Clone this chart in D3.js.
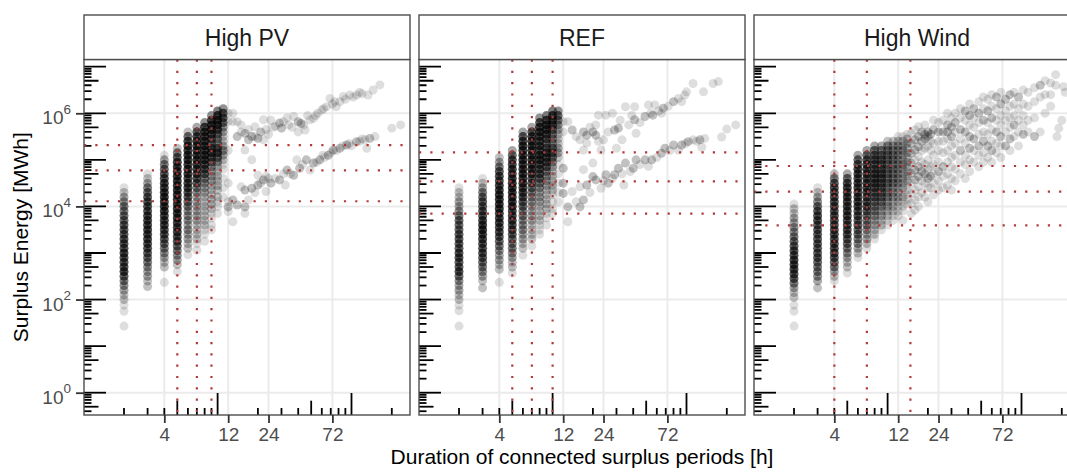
<!DOCTYPE html>
<html><head><meta charset="utf-8">
<script src="https://cdn.jsdelivr.net/npm/d3@7"></script>
<style>body{margin:0;background:#fff}svg{display:block}text{font-family:"Liberation Sans",Arial,sans-serif}</style>
</head><body><svg id="c" width="1067" height="476"></svg>
<script>
const panelNames = ["High PV", "REF", "High Wind"];
const xTickValues = [4, 12, 24, 72];
const yTickValues = [1, 1e2, 1e4, 1e6];
const durationLines = [[5, 7, 9], [5, 7, 10], [4, 7, 14.8]];
const energyLines = [[2.08e5, 5.97e4, 1.29e4], [1.45e5, 3.46e4, 6.98e3], [7.38e4, 2.07e4, 3.93e3]];

// [duration h, [[log10 MWh, number of events], ...]]
const pvColumns = [
[2,[[4.4,1],[4.3,2],[4.2,3],[4.1,4],[4.0,5],[3.9,5],[3.8,6],[3.7,6],[3.6,7],[3.5,7],[3.4,7],[3.3,8],[3.2,8],[3.1,8],[3.0,9],[2.9,8],[2.8,8],[2.7,8],[2.6,9],[2.5,7],[2.4,5],[2.3,4],[2.2,3],[2.1,2],[2.0,2],[1.88,1],[1.75,1],[1.43,1]]],
[3,[[4.7,1],[4.6,2],[4.5,3],[4.4,5],[4.3,6],[4.2,7],[4.1,8],[4.0,8],[3.9,8],[3.8,9],[3.7,9],[3.6,9],[3.5,9],[3.4,9],[3.3,9],[3.2,8],[3.1,8],[3.0,7],[2.9,6],[2.8,5],[2.7,4],[2.6,3],[2.5,3],[2.4,2],[2.28,2]]],
[4,[[5.1,1],[5.0,3],[4.9,5],[4.8,6],[4.7,7],[4.6,8],[4.5,9],[4.4,9],[4.3,10],[4.2,10],[4.1,10],[4.0,10],[3.9,10],[3.8,9],[3.7,9],[3.6,9],[3.5,8],[3.4,8],[3.3,7],[3.2,6],[3.1,5],[3.0,4],[2.9,3],[2.8,2],[2.7,2],[2.37,1]]],
[5,[[5.25,2],[5.15,5],[5.05,7],[4.95,9],[4.85,10],[4.75,10],[4.65,10],[4.55,10],[4.45,10],[4.35,10],[4.25,10],[4.15,10],[4.05,10],[3.95,10],[3.85,10],[3.75,10],[3.65,9],[3.55,9],[3.45,9],[3.35,8],[3.25,8],[3.15,6],[3.05,5],[2.95,4],[2.85,3],[2.75,2],[2.6,1]]],
[6,[[5.6,2],[5.5,6],[5.4,9],[5.3,10],[5.2,10],[5.1,10],[5.0,10],[4.9,10],[4.8,10],[4.7,10],[4.6,9],[4.5,9],[4.4,9],[4.3,8],[4.2,7],[4.1,6],[4.0,5],[3.9,4],[3.8,4],[3.7,4],[3.6,3],[3.5,4],[3.4,3],[3.3,3],[3.2,2],[3.1,2],[2.96,1]]],
[7,[[5.7,3],[5.6,7],[5.5,9],[5.4,10],[5.3,10],[5.2,10],[5.1,10],[5.0,10],[4.9,10],[4.8,9],[4.7,9],[4.6,8],[4.5,7],[4.4,5],[4.3,4],[4.2,3],[4.1,3],[4.0,3],[3.9,3],[3.8,3],[3.7,3],[3.6,2],[3.5,2],[3.4,2],[3.3,2],[3.2,1],[3.06,1]]],
[8,[[5.8,4],[5.7,9],[5.6,10],[5.5,10],[5.4,10],[5.3,10],[5.2,10],[5.1,10],[5.0,10],[4.9,9],[4.8,8],[4.7,7],[4.6,5],[4.5,4],[4.4,3],[4.3,3],[4.2,2],[4.1,2],[4.0,2],[3.9,2],[3.8,2],[3.7,2],[3.6,2],[3.5,1],[3.4,1],[3.25,1]]],
[9,[[5.95,4],[5.85,9],[5.75,10],[5.65,10],[5.55,9],[5.45,7],[5.35,6],[5.25,8],[5.15,9],[5.05,8],[4.95,6],[4.85,4],[4.75,3],[4.65,3],[4.55,3],[4.45,2],[4.35,2],[4.25,2],[4.15,2],[4.05,2],[3.95,2],[3.85,1],[3.75,1],[3.6,1],[3.5,1]]],
[10,[[6.05,5],[5.95,9],[5.85,10],[5.75,9],[5.65,8],[5.55,6],[5.45,4],[5.35,4],[5.25,7],[5.15,8],[5.05,6],[4.95,4],[4.85,2],[4.75,2],[4.65,2],[4.55,2],[4.45,2],[4.35,2],[4.2,2],[4.1,1],[4.0,1],[3.85,1]]],
[11,[[6.1,4],[6.0,7],[5.9,7],[5.8,6],[5.7,4],[5.6,3],[5.5,2],[5.4,2],[5.3,3],[5.2,4],[5.1,3],[5.0,2],[4.9,1],[4.8,1],[4.6,1],[4.4,1],[4.2,1]]],
[12,[[6.0,1],[5.82,1],[5.2,1],[4.5,1],[4.1,1]]]
];
// [duration h, log10 MWh, number of events]
const pvTail = [
[13,6.0,1],[13,5.82,1],[14,5.5,2],[14,5.82,1],[15,5.75,1],[15,5.6,1],[16,5.57,2],[16,5.21,1],[17,5.43,2],[17,5.65,1],[18,5.5,2],[18,5.0,1],[19,5.71,1],[19,5.5,1],[20,5.46,2],[21,5.6,2],[22,5.86,1],[22,5.43,1],[23,5.65,1],[24,5.55,1],[25,5.85,1],[26,5.7,1],[27,5.72,1],[29,5.79,2],[30,5.68,2],[31,5.82,1],[33,5.9,1],[34,5.75,1],[36,5.7,1],[37,5.93,1],[40,5.82,2],[40,5.6,1],[42,5.78,2],[44,5.75,1],[45,5.64,1],[47,5.95,1],[49,5.86,1],[52,5.89,1],[54,5.95,1],[56,6.0,1],[60,6.07,1],[62,6.1,1],[65,6.14,1],[69,6.32,1],[72,6.2,1],[75,6.25,1],[77,6.14,1],[82,6.25,1],[87,6.36,1],[90,6.3,1],[97,6.39,1],[103,6.35,1],[109,6.39,1],[115,6.45,1],[120,6.42,1],[133,6.39,1],[145,6.5,1],[163,6.61,1],
[12,3.99,2],[12,3.89,1],[13,4.14,2],[13,3.67,1],[14,4.03,2],[15,4.42,1],[16,3.99,2],[16,3.85,1],[16,4.35,2],[17,4.14,1],[18,4.39,2],[19,4.3,1],[20,4.46,2],[20,4.67,1],[21,4.5,1],[22,4.57,2],[23,4.32,1],[23,4.64,1],[24,4.6,1],[25,4.5,2],[27,4.6,1],[29,4.57,2],[31,4.7,1],[32,4.46,1],[33,4.78,2],[35,4.7,1],[37,4.67,2],[39,5.0,1],[41,4.82,2],[43,4.9,1],[46,5.0,2],[49,4.78,1],[52,4.93,2],[55,4.95,1],[58,5.0,2],[61,5.1,1],[63,5.05,1],[67,5.1,2],[70,5.15,1],[73,5.21,2],[77,5.2,1],[82,5.25,2],[86,5.3,1],[92,5.32,2],[96,5.35,1],[100,5.3,1],[109,5.39,2],[115,5.4,1],[120,5.45,1],[126,5.43,1],[130,5.25,1],[137,5.46,2],[150,5.5,1],[200,5.68,1],[233,5.75,1]
];

const refColumns = [
[2,[[4.4,1],[4.3,2],[4.2,2],[4.1,3],[4.0,3],[3.9,4],[3.8,5],[3.7,6],[3.6,6],[3.5,6],[3.4,7],[3.3,7],[3.2,7],[3.1,7],[3.0,8],[2.9,8],[2.8,7],[2.7,7],[2.6,8],[2.5,6],[2.4,4],[2.3,3],[2.2,3],[2.1,2],[2.0,2],[1.88,1],[1.76,1],[1.43,1]]],
[3,[[4.6,1],[4.5,2],[4.4,3],[4.3,5],[4.2,6],[4.1,7],[4.0,7],[3.9,8],[3.8,8],[3.7,9],[3.6,10],[3.5,10],[3.4,9],[3.3,9],[3.2,8],[3.1,8],[3.0,8],[2.9,7],[2.8,6],[2.7,5],[2.6,4],[2.5,3],[2.4,2],[2.25,2]]],
[4,[[5.05,2],[4.95,3],[4.85,5],[4.75,7],[4.65,8],[4.55,8],[4.45,9],[4.35,9],[4.25,10],[4.15,10],[4.05,10],[3.95,10],[3.85,9],[3.75,9],[3.65,9],[3.55,8],[3.45,8],[3.35,7],[3.25,6],[3.15,5],[3.05,4],[2.95,3],[2.85,3],[2.75,2],[2.65,2],[2.37,1]]],
[5,[[5.2,3],[5.1,6],[5.0,8],[4.9,9],[4.8,9],[4.7,9],[4.6,10],[4.5,10],[4.4,10],[4.3,10],[4.2,10],[4.1,10],[4.0,10],[3.9,9],[3.8,9],[3.7,9],[3.6,8],[3.5,8],[3.4,7],[3.3,6],[3.2,5],[3.1,5],[3.0,4],[2.9,3],[2.8,2],[2.7,2],[2.57,1]]],
[6,[[5.6,3],[5.5,7],[5.4,9],[5.3,10],[5.2,10],[5.1,10],[5.0,10],[4.9,10],[4.8,10],[4.7,10],[4.6,10],[4.5,10],[4.4,9],[4.3,9],[4.2,8],[4.1,7],[4.0,6],[3.9,5],[3.8,5],[3.7,4],[3.6,4],[3.5,4],[3.4,3],[3.3,3],[3.2,2],[3.1,2],[2.95,1]]],
[7,[[5.7,3],[5.6,8],[5.5,10],[5.4,10],[5.3,10],[5.2,10],[5.1,10],[5.0,10],[4.9,10],[4.8,10],[4.7,9],[4.6,8],[4.5,7],[4.4,6],[4.3,5],[4.2,4],[4.1,4],[4.0,3],[3.9,3],[3.8,3],[3.7,3],[3.6,2],[3.5,2],[3.4,2],[3.3,2],[3.15,1]]],
[8,[[5.9,4],[5.8,8],[5.7,10],[5.6,10],[5.5,10],[5.4,9],[5.3,9],[5.2,9],[5.1,10],[5.0,10],[4.9,9],[4.8,8],[4.7,8],[4.6,7],[4.5,5],[4.4,4],[4.3,3],[4.2,3],[4.1,3],[4.0,2],[3.9,2],[3.8,2],[3.7,2],[3.6,1],[3.5,1],[3.4,1]]],
[9,[[5.95,5],[5.85,9],[5.75,10],[5.65,10],[5.55,9],[5.45,7],[5.35,6],[5.25,7],[5.15,9],[5.05,9],[4.95,8],[4.85,7],[4.75,5],[4.65,4],[4.55,3],[4.45,3],[4.35,2],[4.25,2],[4.15,2],[4.05,2],[3.95,2],[3.85,1],[3.75,1],[3.6,1]]],
[10,[[6.05,5],[5.95,9],[5.85,9],[5.75,8],[5.65,6],[5.55,5],[5.45,4],[5.35,4],[5.25,6],[5.15,7],[5.05,6],[4.95,4],[4.85,3],[4.75,2],[4.65,2],[4.55,2],[4.45,2],[4.35,2],[4.25,1],[4.1,1],[3.95,1],[3.85,1]]],
[11,[[6.05,4],[5.95,6],[5.85,5],[5.75,4],[5.65,3],[5.55,2],[5.45,2],[5.35,2],[5.25,3],[5.15,3],[5.05,2],[4.9,1],[4.7,1],[4.5,1],[4.3,1],[4.1,1]]],
[12,[[5.82,1],[5.6,1],[4.82,1],[4.5,1],[4.28,1]]]
];
const refTail = [
[13,5.82,1],[14,5.64,2],[15,5.5,1],[16,5.43,1],[17,5.6,2],[17,5.21,1],[18,5.53,2],[18,5.36,1],[19,5.7,1],[20,5.6,2],[21,5.53,2],[21,5.75,1],[22,5.96,1],[22,5.4,1],[23,5.21,1],[24,5.43,1],[25,5.96,1],[26,5.6,1],[28,6.0,1],[29,5.64,2],[30,5.25,1],[31,5.68,2],[32,5.85,1],[33,5.43,1],[35,6.14,1],[37,5.75,1],[39,5.95,1],[41,5.86,2],[41,6.14,1],[42,5.57,1],[45,5.8,1],[49,5.93,2],[52,6.18,1],[54,6.0,1],[56,5.96,2],[58,6.18,1],[62,6.05,1],[65,6.0,1],[67,6.11,2],[73,6.15,1],[80,6.25,2],[87,6.32,1],[92,6.25,1],[97,6.39,1],[100,6.46,1],[112,6.64,1],[134,6.46,1],[158,6.64,1],[173,6.68,1],
[12,4.82,1],[12,4.5,1],[12,4.28,1],[13,3.99,2],[13,3.67,1],[14,4.32,1],[15,4.1,1],[16,3.99,2],[17,4.14,2],[16,4.42,1],[17,4.79,1],[18,4.46,2],[19,4.3,1],[20,4.64,2],[20,4.93,1],[21,4.57,2],[23,4.39,1],[24,4.55,1],[25,4.68,2],[26,4.5,2],[28,4.6,1],[29,4.68,2],[31,4.82,2],[33,4.7,1],[34,4.46,1],[35,4.93,2],[38,4.75,1],[40,4.82,2],[42,5.0,2],[45,4.9,1],[49,5.0,2],[52,4.86,1],[55,5.0,2],[60,5.05,1],[65,5.14,2],[69,5.25,2],[75,5.2,1],[80,5.32,2],[87,5.21,1],[92,5.32,2],[98,5.35,1],[103,5.39,2],[112,5.43,1],[119,5.4,1],[126,5.43,2],[130,5.27,1],[137,5.46,1],[183,5.49,1],[200,5.66,1],[233,5.75,1]
];

const windColumns = [
[2,[[4.05,1],[3.95,2],[3.85,2],[3.75,3],[3.65,3],[3.55,4],[3.45,4],[3.35,5],[3.25,6],[3.15,7],[3.05,8],[2.95,8],[2.85,9],[2.75,9],[2.65,9],[2.55,8],[2.45,7],[2.35,5],[2.25,3],[2.15,2],[2.05,2],[1.88,1],[1.75,1],[1.43,1]]],
[3,[[4.4,1],[4.3,2],[4.2,3],[4.1,4],[4.0,6],[3.9,7],[3.8,8],[3.7,8],[3.6,7],[3.5,7],[3.4,7],[3.3,7],[3.2,7],[3.1,7],[3.0,7],[2.9,7],[2.8,6],[2.7,5],[2.6,5],[2.5,4],[2.4,3],[2.25,2]]],
[4,[[4.7,2],[4.6,5],[4.5,7],[4.4,8],[4.3,8],[4.2,8],[4.1,8],[4.0,8],[3.9,8],[3.8,8],[3.7,8],[3.6,8],[3.5,8],[3.4,8],[3.3,8],[3.2,8],[3.1,8],[3.0,8],[2.9,7],[2.8,6],[2.7,5],[2.6,3],[2.5,2],[2.4,1]]],
[5,[[4.7,3],[4.6,6],[4.5,8],[4.4,9],[4.3,9],[4.2,9],[4.1,9],[4.0,9],[3.9,9],[3.8,9],[3.7,8],[3.6,8],[3.5,8],[3.4,8],[3.3,7],[3.2,6],[3.1,5],[3.0,4],[2.9,3],[2.8,2],[2.7,2],[2.57,1]]],
[6,[[5.1,3],[5.0,6],[4.9,8],[4.8,9],[4.7,9],[4.6,9],[4.5,9],[4.4,9],[4.3,9],[4.2,9],[4.1,9],[4.0,9],[3.9,8],[3.8,8],[3.7,7],[3.6,7],[3.5,6],[3.4,6],[3.3,5],[3.2,4],[3.1,3],[3.0,2],[2.9,1]]],
[7,[[5.2,3],[5.1,6],[5.0,8],[4.9,9],[4.8,9],[4.7,9],[4.6,9],[4.5,9],[4.4,9],[4.3,9],[4.2,8],[4.1,8],[4.0,8],[3.9,7],[3.8,6],[3.7,5],[3.6,5],[3.5,4],[3.4,3],[3.3,3],[3.2,2],[3.1,1]]],
[8,[[5.3,3],[5.2,6],[5.1,7],[5.0,8],[4.9,8],[4.8,8],[4.7,9],[4.6,9],[4.5,9],[4.4,8],[4.3,7],[4.2,7],[4.1,6],[4.0,5],[3.9,5],[3.8,4],[3.7,3],[3.6,3],[3.5,2],[3.4,2],[3.3,1]]],
[9,[[5.3,3],[5.2,5],[5.1,6],[5.0,7],[4.9,7],[4.8,7],[4.7,8],[4.6,8],[4.5,7],[4.4,7],[4.3,6],[4.2,6],[4.1,5],[4.0,4],[3.9,3],[3.8,3],[3.7,2],[3.6,2],[3.5,1]]],
[10,[[5.4,2],[5.3,4],[5.2,5],[5.1,5],[5.0,5],[4.9,5],[4.8,5],[4.7,5],[4.6,5],[4.5,5],[4.4,4],[4.3,4],[4.2,4],[4.1,3],[4.0,3],[3.9,2],[3.8,2],[3.7,1],[3.6,1]]],
[11,[[5.4,2],[5.3,3],[5.2,4],[5.1,4],[5.0,4],[4.9,4],[4.8,4],[4.7,4],[4.6,4],[4.5,4],[4.4,3],[4.3,3],[4.2,3],[4.1,2],[4.0,2],[3.9,2],[3.8,1],[3.7,1]]],
[12,[[5.5,1],[5.4,2],[5.3,3],[5.2,3],[5.1,3],[5.0,3],[4.9,3],[4.8,3],[4.7,3],[4.6,3],[4.5,3],[4.4,2],[4.3,2],[4.2,2],[4.1,2],[4.0,1],[3.9,1],[3.8,1]]],
[13,[[5.5,1],[5.4,2],[5.3,2],[5.2,3],[5.1,2],[5.0,2],[4.9,3],[4.8,2],[4.7,2],[4.6,2],[4.5,2],[4.4,2],[4.3,1],[4.2,2],[4.1,1],[4.0,1],[3.9,1],[3.7,1]]],
[14,[[5.55,1],[5.45,2],[5.35,2],[5.25,2],[5.15,2],[5.05,2],[4.95,2],[4.85,2],[4.75,2],[4.65,2],[4.55,2],[4.45,1],[4.35,1],[4.25,1],[4.15,1],[4.05,1]]]
];
const windTail = [
[15,5.57,1],[15,5.35,2],[15,5.14,2],[15,4.93,2],[15,4.71,2],[15,4.5,1],[15,4.28,1],[15,4.07,1],[15,3.85,1],
[16,5.64,1],[16,5.43,2],[16,5.21,2],[16,5.0,1],[16,4.78,2],[16,4.57,2],[16,4.35,1],[16,4.14,1],[16,3.92,1],
[17,5.71,1],[17,5.5,2],[17,5.28,2],[17,5.07,1],[17,4.85,2],[17,4.64,2],[17,4.42,1],[17,4.2,1],[17,4.0,1],
[18,5.6,2],[18,5.4,2],[18,5.2,1],[18,4.95,1],[18,4.75,2],[18,4.55,1],[18,4.3,1],
[19,5.75,1],[19,5.55,2],[19,5.45,2],[19,5.25,1],[19,4.9,1],[19,4.7,2],[19,4.5,1],[19,4.2,1],
[20,5.6,2],[20,5.5,2],[20,5.3,1],[20,5.0,1],[20,4.8,1],[20,4.6,2],[20,4.4,1],[20,4.1,1],
[21,5.55,2],[21,5.4,1],[21,5.2,1],[21,4.85,1],[21,4.65,2],[21,4.4,1],
[22,5.85,1],[22,5.65,2],[22,5.35,1],[22,5.1,1],[22,4.9,1],[22,4.7,1],[22,4.5,1],[22,4.25,1],
[24,5.8,1],[24,5.6,2],[24,5.4,1],[24,5.2,1],[24,4.95,1],[24,4.75,2],[24,4.55,1],[24,4.35,1],
[26,5.85,1],[26,5.6,2],[26,5.4,1],[26,5.15,1],[26,4.85,2],[26,4.65,1],[26,4.4,1],
[28,6.0,1],[28,5.75,2],[28,5.6,2],[28,5.45,1],[28,5.2,1],[28,4.95,1],[28,4.7,1],[28,4.45,1],
[30,5.9,1],[30,5.7,2],[30,5.5,2],[30,5.3,1],[30,5.05,1],[30,4.85,1],[30,4.6,1],[30,4.35,1],
[32,6.0,1],[32,5.8,2],[32,5.6,1],[32,5.35,1],[32,5.1,1],[32,4.8,1],[32,4.55,1],
[35,6.1,1],[35,5.9,1],[35,5.65,2],[35,5.45,1],[35,5.2,2],[35,4.95,1],[35,4.7,1],
[38,6.05,2],[38,5.85,1],[38,5.6,2],[38,5.35,1],[38,5.1,1],[38,4.9,1],[38,4.6,1],
[41,6.2,1],[41,5.95,2],[41,5.75,1],[41,5.5,2],[41,5.25,2],[41,5.0,1],[41,4.75,1],
[44,6.1,2],[44,5.9,1],[44,5.7,1],[44,5.45,2],[44,5.2,1],[44,4.95,1],
[48,6.25,1],[48,6.0,2],[48,5.8,1],[48,5.55,1],[48,5.3,2],[48,5.1,1],[48,4.85,1],
[52,6.35,1],[52,6.1,1],[52,5.85,2],[52,5.6,1],[52,5.4,2],[52,5.15,1],[52,4.95,1],
[56,6.3,1],[56,6.05,2],[56,5.8,1],[56,5.55,1],[56,5.3,2],[56,5.05,1],
[60,6.4,1],[60,6.15,1],[60,5.9,2],[60,5.65,1],[60,5.4,1],[60,5.2,2],[60,4.95,1],
[65,6.35,2],[65,6.1,1],[65,5.85,1],[65,5.6,2],[65,5.35,1],[65,5.15,1],
[70,6.45,1],[70,6.2,2],[70,5.95,1],[70,5.75,1],[70,5.5,2],[70,5.3,1],[70,5.05,1],
[76,6.3,2],[76,6.05,1],[76,5.85,1],[76,5.6,1],[76,5.3,2],
[82,6.4,2],[82,6.15,1],[82,5.9,1],[82,5.7,1],[82,5.45,2],[82,5.2,1],
[88,6.45,1],[88,6.2,1],[88,5.95,1],[88,5.75,2],[88,5.5,1],
[95,6.35,2],[95,6.1,1],[95,5.85,1],[95,5.6,1],[95,5.3,1],
[103,6.5,1],[103,6.2,1],[103,5.95,1],[103,5.75,1],[103,5.55,2],
[112,6.45,1],[112,6.15,1],[112,5.85,1],[112,5.6,1],
[125,6.55,1],[125,6.25,1],[125,5.9,1],[125,5.5,2],
[138,6.6,2],[138,6.35,1],[138,5.6,1],
[150,6.7,1],[150,6.4,1],[150,6.0,1],
[165,6.65,1],[165,6.4,1],[165,6.15,1],
[180,6.83,1],[180,6.6,1],[184,5.5,1],[190,5.68,1],
[206,6.57,1],[212,6.45,1],[200,5.85,1]
];

const panelColumns = [pvColumns, refColumns, windColumns];
const panelTails = [pvTail, refTail, windTail];

// ---------- layout ----------
const panelW = 326, panelTop = 59.5, panelBottom = 415, stripTop = 15;
const panelLeft = [84, 419, 754];
const svg = d3.select("#c");
const y = d3.scaleLog().domain([Math.pow(10, -0.479), Math.pow(10, 7.155)]).range([panelBottom, panelTop]);
const xDomain = [1.005, 273.5];
const baseAlpha = 0.13;

function points(cols, tail) {
  const out = [];
  cols.forEach(([d, arr]) => arr.forEach(([l, n]) => out.push({d, e: Math.pow(10, l), n})));
  tail.forEach(([d, l, n]) => out.push({d, e: Math.pow(10, l), n}));
  return out;
}

const defs = svg.append("defs");

panelNames.forEach((name, i) => {
  const left = panelLeft[i];
  const x = d3.scaleLog().domain(xDomain).range([left, left + panelW]);
  const g = svg.append("g");
  defs.append("clipPath").attr("id", "clip" + i)
    .append("rect").attr("x", left).attr("y", panelTop).attr("width", panelW).attr("height", panelBottom - panelTop);

  g.append("rect").attr("x", left).attr("y", panelTop).attr("width", panelW).attr("height", panelBottom - panelTop).attr("fill", "#fff");

  const inner = g.append("g").attr("clip-path", `url(#clip${i})`);
  inner.selectAll(".gx").data(xTickValues).join("line")
    .attr("x1", d => x(d)).attr("x2", d => x(d)).attr("y1", panelTop).attr("y2", panelBottom)
    .attr("stroke", "#ebebeb").attr("stroke-width", 2);
  inner.selectAll(".gy").data(yTickValues).join("line")
    .attr("x1", left).attr("x2", left + panelW).attr("y1", d => y(d)).attr("y2", d => y(d))
    .attr("stroke", "#ebebeb").attr("stroke-width", 2);

  inner.append("g").selectAll("circle").data(points(panelColumns[i], panelTails[i])).join("circle")
    .attr("cx", d => x(d.d)).attr("cy", d => y(d.e)).attr("r", 4.5)
    .attr("fill", "#000").attr("fill-opacity", d => 1 - Math.pow(1 - baseAlpha, d.n));

  const xl = [];
  for (let e = 0; e <= 3; e++) for (let k = 1; k <= 9; k++) {
    const v = k * Math.pow(10, e);
    if (v >= xDomain[0] && v <= xDomain[1]) xl.push({v, len: k === 1 ? 22 : (k === 5 ? 14.3 : 7)});
  }
  inner.append("g").selectAll("line").data(xl).join("line")
    .attr("x1", d => x(d.v)).attr("x2", d => x(d.v)).attr("y1", panelBottom).attr("y2", d => panelBottom - d.len)
    .attr("stroke", "#000").attr("stroke-width", 1.8);
  const yl = [];
  const yd = y.domain();
  for (let e = -1; e <= 7; e++) for (let k = 1; k <= 9; k++) {
    const v = k * Math.pow(10, e);
    if (v >= yd[0] && v <= yd[1]) yl.push({v, len: k === 1 ? 22 : (k === 5 ? 14.5 : 7.5)});
  }
  inner.append("g").selectAll("line").data(yl).join("line")
    .attr("x1", left).attr("x2", d => left + d.len).attr("y1", d => y(d.v)).attr("y2", d => y(d.v))
    .attr("stroke", "#000").attr("stroke-width", 1.8);

  inner.selectAll(".vl").data(durationLines[i]).join("line")
    .attr("x1", d => x(d)).attr("x2", d => x(d)).attr("y1", panelTop).attr("y2", panelBottom)
    .attr("stroke", "#b23a3a").attr("stroke-width", 2.2).attr("stroke-dasharray", "2.2 9.1");
  inner.selectAll(".hl").data(energyLines[i]).join("line")
    .attr("x1", left).attr("x2", left + panelW).attr("y1", d => y(d)).attr("y2", d => y(d))
    .attr("stroke", "#b23a3a").attr("stroke-width", 2.2).attr("stroke-dasharray", "2.2 9.1");

  g.append("rect").attr("x", left).attr("y", panelTop).attr("width", panelW).attr("height", panelBottom - panelTop)
    .attr("fill", "none").attr("stroke", "#4d4d4d").attr("stroke-width", 1.4);

  g.append("rect").attr("x", left).attr("y", stripTop).attr("width", panelW).attr("height", panelTop - stripTop)
    .attr("fill", "#fff").attr("stroke", "#4d4d4d").attr("stroke-width", 1.4);
  g.append("text").attr("x", left + panelW / 2).attr("y", 45.7).attr("text-anchor", "middle")
    .attr("font-size", 23).attr("fill", "#1a1a1a").text(name);

  const xa = g.append("g").attr("transform", `translate(0,${panelBottom})`)
    .call(d3.axisBottom(x).tickValues(xTickValues).tickFormat(d3.format("d")).tickSize(8).tickPadding(5));
  xa.select(".domain").remove();
  xa.selectAll(".tick line").attr("stroke", "#333").attr("stroke-width", 1.8);
  xa.selectAll(".tick text").attr("font-size", 19).attr("fill", "#4d4d4d")
    .attr("font-family", '"Liberation Sans",Arial,sans-serif');

  if (i === 0) {
    const ya = g.append("g").attr("transform", `translate(${left},0)`)
      .call(d3.axisLeft(y).tickValues(yTickValues).tickFormat("").tickSize(8));
    ya.select(".domain").remove();
    ya.selectAll(".tick line").attr("stroke", "#333").attr("stroke-width", 1.8);
    const lab = g.append("g").selectAll("text").data(yTickValues).join("text")
      .attr("x", left - 13).attr("y", d => y(d) + 11).attr("text-anchor", "end")
      .attr("fill", "#4d4d4d").attr("font-size", 19);
    lab.append("tspan").text("10");
    lab.append("tspan").attr("dy", -10.7).attr("font-size", 13.5).text(d => Math.round(Math.log10(d)));
  }
});

svg.append("text").attr("x", (panelLeft[0] + panelLeft[2] + panelW) / 2).attr("y", 463.5)
  .attr("text-anchor", "middle").attr("font-size", 21).attr("fill", "#000")
  .text("Duration of connected surplus periods [h]");
svg.append("text").attr("transform", `translate(28,${(panelTop + panelBottom) / 2}) rotate(-90)`)
  .attr("text-anchor", "middle").attr("font-size", 21).attr("fill", "#000")
  .text("Surplus Energy [MWh]");
</script></body></html>
